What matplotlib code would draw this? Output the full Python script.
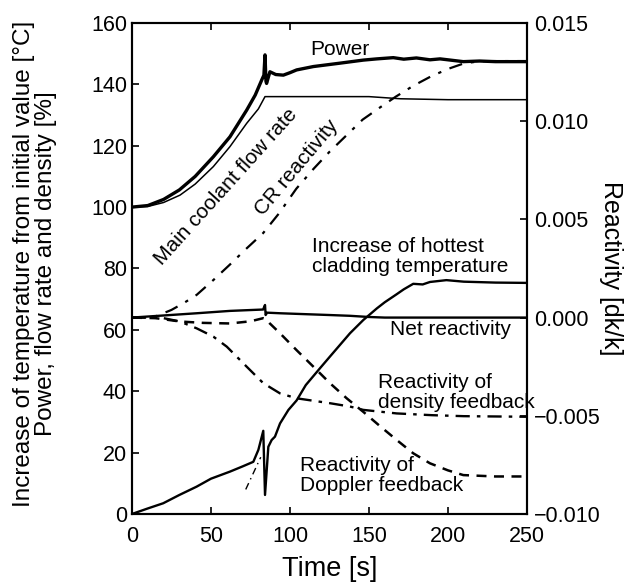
import numpy as np
import matplotlib.pyplot as plt

plt.rcParams['font.family'] = ['Liberation Sans', 'DejaVu Sans']

# ---- left axis data: [%] and [degC] ----
power_t = [0, 10, 20, 30, 40, 51.5, 62, 72.6, 78, 82.1, 83.5, 84.2, 84.8, 85.2, 87.3, 91, 95.8,
           100, 104.2, 114.8, 131.6, 146.4, 155, 165.4, 172, 180, 188.6, 195, 209.7, 220, 230, 250]
power = [100, 100.5, 102.5, 105.6, 110, 116.4, 122.9, 131.6, 136.5, 141.4, 143, 149.6, 141, 140.3, 144.1, 143.2, 143,
         143.8, 144.7, 145.8, 146.9, 147.9, 148.3, 148.7, 148.2, 148.6, 148, 148.3, 147.4, 147.6, 147.4, 147.4]

flow_t = [0, 10, 20, 30.4, 40, 51.5, 62, 72.6, 80, 84.2, 100, 150, 170, 200, 250]
flow = [100, 100.2, 101.5, 103.9, 107.5, 113.2, 119.7, 127.3, 132, 136, 136, 136, 135.3, 135, 135]

clad_t = [0, 10, 19.8, 30, 40.9, 50, 62, 70, 76.8, 80, 83.1, 84.2, 86.3, 88.4, 90.5, 93.7, 99, 104.2,
          110, 119, 125.3, 138, 146.4, 155, 160, 167.5, 172, 178, 184, 188.6, 199, 210, 230, 250]
clad = [0, 1.8, 3.5, 6.2, 8.9, 11.5, 13.8, 15.5, 17, 20.9, 27.1, 6.2, 21.9, 24.1, 25.2, 29.5, 33.9, 37,
        42, 47.5, 51.3, 58.9, 63.2, 67, 69, 71.6, 73.2, 75, 74.8, 75.6, 76.2, 75.7, 75.4, 75.3]

clad_ref_t = [72, 81.5]
clad_ref = [8, 18.5]

# ---- right axis data: reactivity [dk/k] ----
cr_t = [0, 10, 15.6, 25, 33, 41, 51.5, 62, 72, 83, 93, 104, 115, 125, 135, 146, 157, 167,
        178, 189, 200, 210, 220, 230, 250]
cr = [0, 0, 0.00008, 0.00039, 0.00075, 0.00116, 0.00191, 0.00270, 0.00348, 0.00430, 0.00530, 0.00656,
      0.00758, 0.00844, 0.00922, 0.01008, 0.01070, 0.01125, 0.01180, 0.01227, 0.01266, 0.01294,
      0.01305, 0.01306, 0.01306]

net_t = [0, 15, 41, 62, 83, 84.2, 84.6, 85.5, 93.7, 104, 125, 138, 150, 160, 250]
net = [0, 0.00008, 0.00022, 0.00034, 0.00041, 0.00064, 0.00013, 0.00025, 0.00022, 0.00019,
       0.00013, 0.00009, 0.00003, 0, 0]

dens_t = [0, 10, 20, 30.4, 41, 51.5, 60, 72.6, 83.1, 93.7, 104.2, 125.3, 138, 146.4, 167.5, 190, 210, 250]
dens = [0, 0, -0.00003, -0.00020, -0.00055, -0.00097, -0.00148, -0.00250, -0.00334, -0.00386,
        -0.00411, -0.00436, -0.00453, -0.00470, -0.00488, -0.00497, -0.00502, -0.00505]

dop_t = [0, 15, 30.4, 45, 62, 75, 83.1, 84.5, 87, 93.7, 104.2, 114.8, 125.3, 135.9, 146.4, 157,
         167.5, 178, 188.6, 200, 209.7, 230, 250]
dop = [0, -0.00003, -0.00020, -0.00027, -0.00030, -0.00019, -0.00003, -0.00006, -0.00028, -0.00080,
       -0.00166, -0.00250, -0.00334, -0.00411, -0.00480, -0.00553, -0.00623, -0.00691, -0.00742,
       -0.00778, -0.00802, -0.00809, -0.00809]

right_ticks = [-0.010, -0.005, 0.0, 0.005, 0.010, 0.015]

fig = plt.figure(figsize=(6.36, 5.86), dpi=100)
ax = fig.add_axes([0.2075, 0.1229, 0.6211, 0.8379])
ax2 = ax.twinx()

ax.plot(power_t, power, color='k', lw=2.4)
ax.plot(flow_t, flow, color='k', lw=1.1)
ax.plot(clad_t, clad, color='k', lw=1.7)
ax.plot(clad_ref_t, clad_ref, color='k', lw=1.0, ls=(0, (5, 3, 1, 3)))

ax2.plot(cr_t, cr, color='k', lw=1.6, ls=(0, (6, 4, 1.5, 4)))
ax2.plot(net_t, net, color='k', lw=1.7)
ax2.plot(dens_t, dens, color='k', lw=1.7, ls=(0, (6, 3, 1.5, 3)))
ax2.plot(dop_t, dop, color='k', lw=1.8, ls=(0, (4, 3)))

ax.set_xlim(0, 250)
ax.set_ylim(0, 160)
ax2.set_ylim(-0.010, 0.015)
ax.set_xticks(np.arange(0, 251, 50))
ax.set_yticks(np.arange(0, 161, 20))
ax2.set_yticks(right_ticks)
ax2.set_yticklabels(['%.3f' % abs(v) if v >= 0 else '\u2212%.3f' % abs(v) for v in right_ticks])

ax.tick_params(axis='both', direction='in', labelsize=15.5, length=5, width=1.2, top=True)
ax.tick_params(axis='x', pad=9)
ax2.tick_params(axis='y', direction='in', labelsize=15.5, length=5, width=1.2, pad=5)
for a in (ax, ax2):
    for s in a.spines.values():
        s.set_linewidth(1.5)

ax.set_xlabel('Time [s]', fontsize=19.5, labelpad=6)
ax.set_ylabel('Increase of temperature from initial value [\u00b0C]\nPower, flow rate and density [%]',
              fontsize=17.5, linespacing=1.0)
ax.yaxis.set_label_coords(-0.19, 0.51)
ax2.set_ylabel('Reactivity [dk/k]', fontsize=18, rotation=-90, labelpad=16)

fs = 15
ax.text(131.6, 151.2, 'Power', fontsize=fs, ha='center', va='center')
ax.text(59.5, 106.5, 'Main coolant flow rate', fontsize=fs, ha='center', va='center', rotation=48)
ax.text(104, 113, 'CR reactivity', fontsize=fs, ha='center', va='center', rotation=50)
ax.text(114, 84, 'Increase of hottest\ncladding temperature', fontsize=fs, ha='left', va='center',
        linespacing=1.05)
ax.text(163, 60, 'Net reactivity', fontsize=fs, ha='left', va='center')
ax.text(156, 39.6, 'Reactivity of\ndensity feedback', fontsize=fs, ha='left', va='center', linespacing=1.05)
ax.text(106.3, 12.5, 'Reactivity of\nDoppler feedback', fontsize=fs, ha='left', va='center', linespacing=1.05)

fig.savefig('out.png', dpi=100)
